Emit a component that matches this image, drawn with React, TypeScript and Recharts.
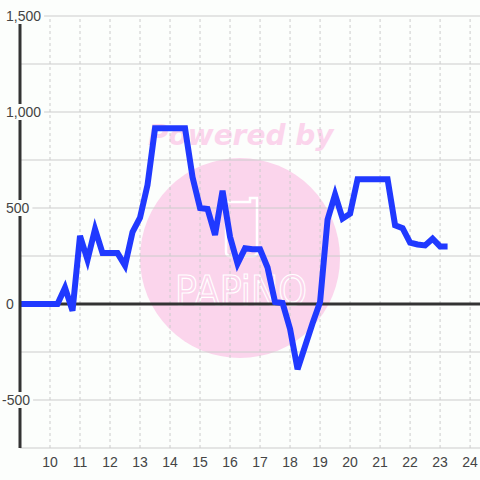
import React from "react";
import { LineChart, Line, XAxis, YAxis, CartesianGrid, ReferenceLine } from "recharts";

// time of day (hours), 15 min steps
const hours = [
  9, 9.25, 9.5, 9.75, 10, 10.25, 10.5, 10.75, 11, 11.25, 11.5, 11.75, 12, 12.25, 12.5, 12.75,
  13, 13.25, 13.5, 13.75, 14, 14.25, 14.5, 14.75, 15, 15.25, 15.5, 15.75, 16, 16.25, 16.5, 16.75,
  17, 17.25, 17.5, 17.75, 18, 18.25, 18.5, 18.75, 19, 19.25, 19.5, 19.75, 20, 20.25, 20.5, 20.75,
  21, 21.25, 21.5, 21.75, 22, 22.25, 22.5, 22.75, 23, 23.25,
];
const values = [
  0, 0, 0, 0, 0, 0, 85, -35, 355, 230, 390, 265, 265, 265, 200, 375,
  450, 620, 915, 915, 915, 915, 915, 660, 500, 495, 360, 590, 350, 210, 290, 285,
  285, 190, 10, 5, -130, -340, -220, -100, 10, 440, 570, 445, 470, 650, 650, 650,
  650, 650, 410, 395, 320, 310, 305, 340, 300, 300,
];
const xTicks = [10, 11, 12, 13, 14, 15, 16, 17, 18, 19, 20, 21, 22, 23, 24];
const yTicks = [-750, -500, -250, 0, 250, 500, 750, 1000, 1250, 1500];

const BG = "#fcfefc";
const FONT = "'Liberation Sans', Arial, sans-serif";

const data = hours.map((h, i) => ({ h, v: values[i] }));

const charW = (c: string) => (c === "," ? 3.9 : c === "-" ? 4.7 : 7.8);

const YTick = (props: any) => {
  const { y, payload } = props;
  const v = payload.value;
  if (v % 500 !== 0) return <g />;
  const label = v.toLocaleString("en-US");
  const w = label.split("").reduce((s: number, c: string) => s + charW(c), 0);
  const x = v < 0 ? 2 : 6;
  return (
    <g>
      <rect x={x - 3} y={y - 8} width={w + 6} height={16} fill={BG} />
      <text x={x} y={y + 5} fontSize={14} fill="#444" fontFamily={FONT}>
        {label}
      </text>
    </g>
  );
};

const XTick = (props: any) => {
  const { x, payload } = props;
  return (
    <text x={x} y={467} fontSize={14} fill="#444" fontFamily={FONT} textAnchor="middle">
      {payload.value}
    </text>
  );
};

const Watermark = () => (
  <svg width={480} height={480} style={{ position: "absolute", left: 0, top: 0 }}>
    <circle cx={240} cy={258} r={100} fill="#fbd5ec" />
    <text
      x={148}
      y={145}
      fontSize={28}
      fontWeight="bold"
      fontStyle="italic"
      fontFamily="'DejaVu Sans', sans-serif"
      fill="#fbd5ec"
    >
      Powered by
    </text>
    <path
      d="M226 202 H250 V198 H257 V252 Q257 256 253 256 H230 Q226 256 226 252 Z"
      fill="none"
      stroke="#fff"
      strokeWidth={2.5}
    />
    <text
      x={175}
      y={305}
      fontSize={40}
      fontFamily="'DejaVu Sans', sans-serif"
      fill="none"
      stroke="#fff"
      strokeWidth={1.2}
      textLength={132}
      lengthAdjust="spacingAndGlyphs"
    >
      PAPiNO
    </text>
  </svg>
);

export default function App() {
  return (
    <div style={{ position: "absolute", left: 0, top: 0, width: 480, height: 480, background: BG }}>
      <Watermark />
      <div style={{ position: "absolute", left: 0, top: 0 }}>
        <LineChart width={480} height={480} data={data} margin={{ top: 16, right: 0, left: 0, bottom: 0 }}>
          <CartesianGrid vertical={false} stroke="#ccc" />
          <XAxis
            dataKey="h"
            type="number"
            domain={[9, 24.33]}
            ticks={xTicks}
            axisLine={false}
            tickLine={false}
            height={32}
            tick={<XTick />}
            allowDataOverflow
          />
          <YAxis
            type="number"
            domain={[-750, 1500]}
            ticks={yTicks}
            width={20}
            axisLine={{ stroke: "#333", strokeWidth: 3 }}
            tickLine={false}
            tick={<YTick />}
            interval={0}
          />
          {xTicks.map((t) => (
            <ReferenceLine key={t} x={t} stroke="#ccc" strokeDasharray="3 3" />
          ))}
          <ReferenceLine y={0} stroke="#333" strokeWidth={3} />
          <Line
            type="linear"
            dataKey="v"
            stroke="#2039ff"
            strokeWidth={6}
            dot={false}
            isAnimationActive={false}
          />
        </LineChart>
      </div>
    </div>
  );
}
